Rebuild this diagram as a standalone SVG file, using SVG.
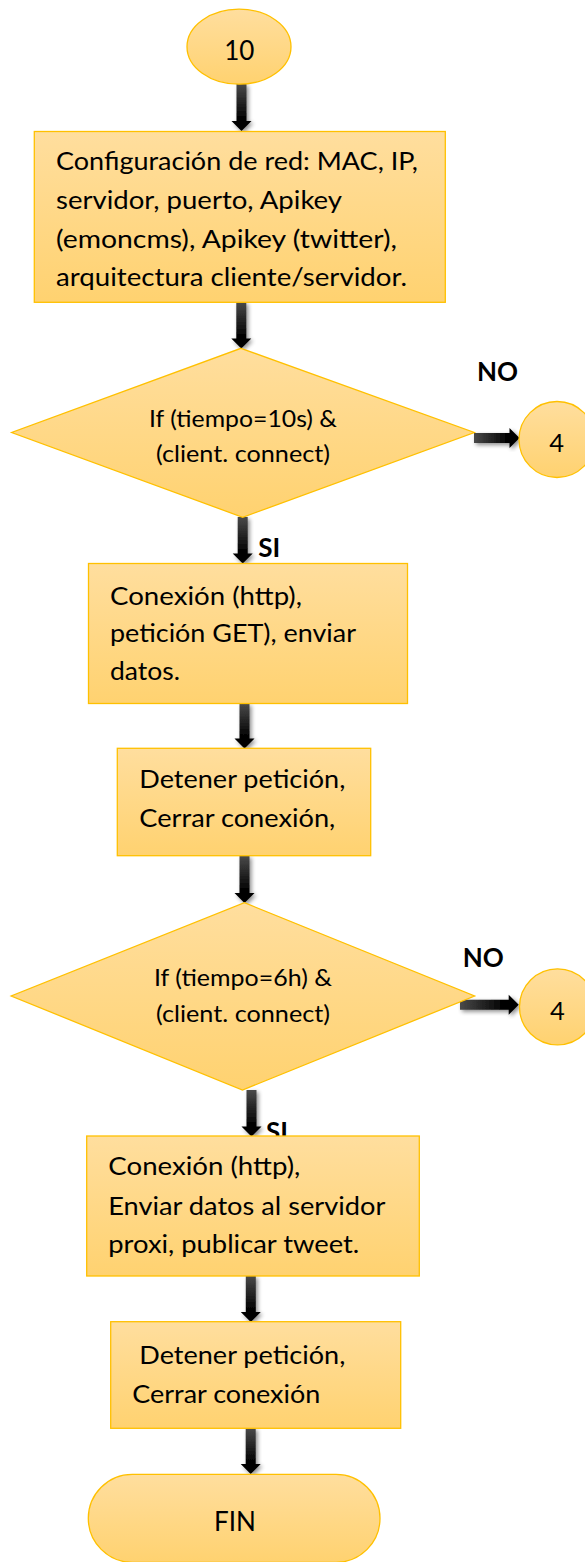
<svg xmlns="http://www.w3.org/2000/svg" width="585" height="1562" viewBox="0 0 585 1562">
  <defs>
    <linearGradient id="fillV" x1="0" y1="0" x2="0" y2="1">
      <stop offset="0" stop-color="#FFDE9E"/>
      <stop offset="1" stop-color="#FFD270"/>
    </linearGradient>
    <linearGradient id="arrowV" x1="0" y1="0" x2="0" y2="1">
      <stop offset="0" stop-color="#4a4a4a"/>
      <stop offset="0.7" stop-color="#050505"/>
      <stop offset="1" stop-color="#000"/>
    </linearGradient>
    <linearGradient id="arrowH" x1="0" y1="0" x2="1" y2="0">
      <stop offset="0" stop-color="#4a4a4a"/>
      <stop offset="0.7" stop-color="#050505"/>
      <stop offset="1" stop-color="#000"/>
    </linearGradient>
    <filter id="shadow" x="-50%" y="-20%" width="200%" height="140%">
      <feGaussianBlur in="SourceAlpha" stdDeviation="2"/>
      <feOffset dx="1.5" dy="2" result="b"/>
      <feComponentTransfer><feFuncA type="linear" slope="0.45"/></feComponentTransfer>
      <feMerge><feMergeNode/><feMergeNode in="SourceGraphic"/></feMerge>
    </filter>
  </defs>
  <style>
    .shape { fill: url(#fillV); stroke: #FFC000; stroke-width: 1.3; }
    .av { fill: url(#arrowV); filter: url(#shadow); }
    .ah { fill: url(#arrowH); filter: url(#shadow); }
    .t { font-family: Lato, "Open Sans", "Liberation Sans", sans-serif; font-size: 25.5px; fill: #000; }
    .td { font-family: Lato, "Open Sans", "Liberation Sans", sans-serif; font-size: 23px; fill: #000; }
    .c { text-anchor: middle; }
    .lbl { font-family: Lato, "Open Sans", "Liberation Sans", sans-serif; font-size: 26px; font-weight: bold; fill: #000; }
  </style>
  <rect width="585" height="1562" fill="#fff"/>

  <!-- connectors (drawn below the nodes) -->
  <g id="connectors">
    <!-- 10 -> configuración -->
    <path class="av" d="M236.5,84 H246.5 V121 H251.5 L241.5,131 L231.5,121 H236.5 Z"/>
    <!-- configuración -> decisión 10s -->
    <path class="av" d="M236.3,302 H246.3 V338.5 H251.3 L241.3,348.5 L231.3,338.5 H236.3 Z"/>
    <!-- decisión 10s -> 4 (NO) -->
    <path class="ah" d="M474,433 V443 H509.5 V448 L519.5,438 L509.5,428 V433 Z"/>
    <text class="lbl" x="476.9" y="380.7">NO</text>
    <!-- decisión 10s -> conexión (SI) -->
    <path class="av" d="M237.7,517 H247.7 V553.5 H252.7 L242.7,563.5 L232.7,553.5 H237.7 Z"/>
    <text class="lbl" x="258.3" y="556.7">SI</text>
    <!-- conexión -> detener -->
    <path class="av" d="M239.5,703.5 H249.5 V738.5 H254.5 L244.5,748.5 L234.5,738.5 H239.5 Z"/>
    <!-- detener -> decisión 6h -->
    <path class="av" d="M239.5,855.7 H249.5 V893 H254.5 L244.5,903 L234.5,893 H239.5 Z"/>
    <!-- decisión 6h -> 4 (NO) -->
    <path class="ah" d="M460,999.7 V1009.7 H508.7 V1014.7 L518.7,1004.7 L508.7,994.7 V999.7 Z"/>
    <text class="lbl" x="462.7" y="966.7">NO</text>
    <!-- decisión 6h -> conexión tweet (SI) -->
    <text class="lbl" x="266" y="1141">SI</text>
    <path class="av" d="M246.5,1090 H256.5 V1126.5 H261.5 L251.5,1136.5 L241.5,1126.5 H246.5 Z"/>
    <!-- conexión tweet -> detener -->
    <path class="av" d="M245.8,1276 H255.8 V1312 H260.8 L250.8,1322 L240.8,1312 H245.8 Z"/>
    <!-- detener -> FIN -->
    <path class="av" d="M245.7,1428.3 H255.7 V1464 H260.7 L250.7,1474 L240.7,1464 H245.7 Z"/>
  </g>

  <g id="start">
    <ellipse class="shape" cx="239" cy="46.7" rx="52" ry="37.5"/>
    <text class="t c" x="239.3" y="60" style="font-size:26px">10</text>
  </g>

  <g id="config">
    <rect class="shape" x="34.3" y="131.5" width="411" height="170.8"/>
    <text class="t" x="56" y="170" textLength="362" lengthAdjust="spacingAndGlyphs">Configuración de red: MAC, IP,</text>
    <text class="t" x="56" y="209" textLength="286" lengthAdjust="spacingAndGlyphs">servidor, puerto, Apikey</text>
    <text class="t" x="56" y="247.5" textLength="341" lengthAdjust="spacingAndGlyphs">(emoncms), Apikey (twitter),</text>
    <text class="t" x="56" y="286" textLength="351" lengthAdjust="spacingAndGlyphs">arquitectura cliente/servidor.</text>
  </g>

  <g id="decision-10s">
    <polygon class="shape" points="241,348.3 474.3,432.5 242.7,517.3 11.7,432.5"/>
    <text class="td c" x="243" y="426.7" textLength="188" lengthAdjust="spacingAndGlyphs">If (tiempo=10s) &amp;</text>
    <text class="td c" x="243" y="461.7" textLength="174" lengthAdjust="spacingAndGlyphs">(client. connect)</text>
  </g>

  <g id="goto-4-a">
    <circle class="shape" cx="557" cy="439.5" r="38"/>
    <text class="t c" x="556.7" y="451.7">4</text>
  </g>

  <g id="conexion-get">
    <rect class="shape" x="88.5" y="563.5" width="319" height="140"/>
    <text class="t" x="110" y="604.5" textLength="192" lengthAdjust="spacingAndGlyphs">Conexión (http),</text>
    <text class="t" x="110" y="641.7" textLength="246" lengthAdjust="spacingAndGlyphs">petición GET), enviar</text>
    <text class="t" x="110" y="680" textLength="70" lengthAdjust="spacingAndGlyphs">datos.</text>
  </g>

  <g id="detener-1">
    <rect class="shape" x="117.3" y="748.3" width="253.4" height="107.4"/>
    <text class="t" x="139.3" y="788.3" textLength="206" lengthAdjust="spacingAndGlyphs">Detener petición,</text>
    <text class="t" x="139.3" y="826.7" textLength="196" lengthAdjust="spacingAndGlyphs">Cerrar conexión,</text>
  </g>

  <g id="decision-6h">
    <polygon class="shape" points="244.4,902.7 474.6,996 242.5,1090 11.2,996"/>
    <text class="td c" x="243" y="986" textLength="178" lengthAdjust="spacingAndGlyphs">If (tiempo=6h) &amp;</text>
    <text class="td c" x="243" y="1021.7" textLength="174" lengthAdjust="spacingAndGlyphs">(client. connect)</text>
  </g>

  <g id="goto-4-b">
    <circle class="shape" cx="557.5" cy="1006.8" r="38"/>
    <text class="t c" x="557.5" y="1020">4</text>
  </g>

  <g id="conexion-tweet">
    <rect class="shape" x="86.7" y="1136" width="332.6" height="140"/>
    <text class="t" x="108.3" y="1175" textLength="192" lengthAdjust="spacingAndGlyphs">Conexión (http),</text>
    <text class="t" x="108.3" y="1215" textLength="277" lengthAdjust="spacingAndGlyphs">Enviar datos al servidor</text>
    <text class="t" x="108.3" y="1253.3" textLength="251" lengthAdjust="spacingAndGlyphs">proxi, publicar tweet.</text>
  </g>

  <g id="detener-2">
    <rect class="shape" x="110.7" y="1321.7" width="290" height="106.6"/>
    <text class="t" x="139.3" y="1364" textLength="206" lengthAdjust="spacingAndGlyphs">Detener petición,</text>
    <text class="t" x="132.3" y="1403.3" textLength="188" lengthAdjust="spacingAndGlyphs">Cerrar conexión</text>
  </g>

  <g id="fin">
    <rect class="shape" x="88.3" y="1474.3" width="291.7" height="88" rx="44" ry="44"/>
    <text class="t c" x="235" y="1530.7" style="font-size:26px">FIN</text>
  </g>
</svg>
